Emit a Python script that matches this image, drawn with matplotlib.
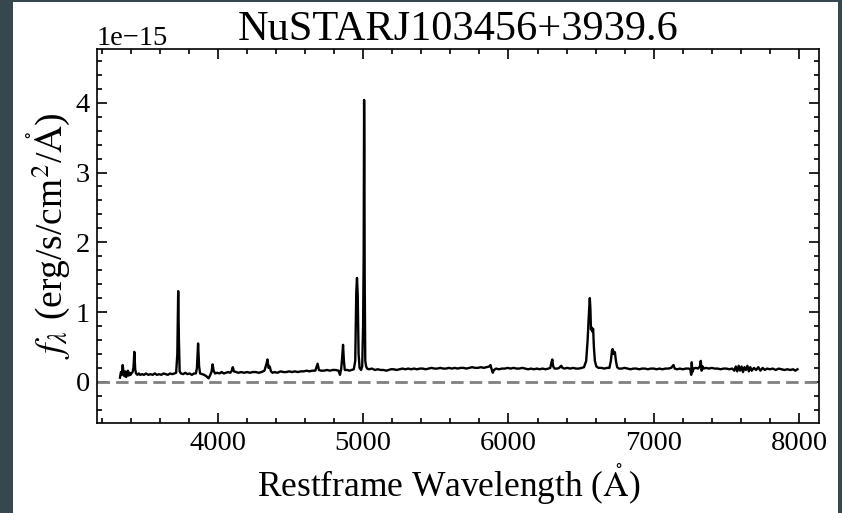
import numpy as np
import matplotlib
matplotlib.use("Agg")
import matplotlib.pyplot as plt
from matplotlib.patches import Rectangle
from matplotlib.ticker import MultipleLocator

plt.rcParams['font.family'] = ['Liberation Serif', 'DejaVu Serif']
plt.rcParams['mathtext.fontset'] = 'stix'

# spectrum (flux in units of 1e-15 erg/s/cm^2/A)
wave = [3325, 3332, 3338, 3344, 3350, 3356, 3362, 3368, 3374, 3380, 3386, 3392, 3398, 3404,
        3412, 3418, 3424, 3430, 3436, 3445, 3455, 3465, 3478, 3490, 3505, 3520, 3535, 3550,
        3565, 3580, 3595, 3610, 3625, 3640, 3655, 3670, 3685, 3700, 3712, 3720, 3726, 3731,
        3736, 3745, 3760, 3775, 3790, 3805, 3820, 3835, 3848, 3855, 3863, 3870, 3877, 3890,
        3905, 3920, 3935, 3945, 3955, 3963, 3970, 3980, 3995, 4010, 4025, 4040, 4055, 4070,
        4085, 4095, 4102, 4110, 4125, 4140, 4160, 4180, 4200, 4220, 4240, 4260, 4280, 4300,
        4320, 4334, 4341, 4348, 4356, 4365, 4375, 4390, 4410, 4430, 4450, 4470, 4490, 4510,
        4530, 4550, 4570, 4590, 4610, 4630, 4650, 4670, 4686, 4695, 4710, 4730, 4750, 4770,
        4790, 4810, 4830, 4840, 4848, 4855, 4861, 4867, 4873, 4890, 4905, 4920, 4935, 4945,
        4952, 4957, 4962, 4968, 4975, 4985, 4993, 4999, 5003, 5006, 5008, 5010, 5014, 5020,
        5027, 5040, 5060, 5080, 5100, 5120, 5140, 5160, 5175, 5190, 5210, 5230, 5250, 5270,
        5290, 5310, 5330, 5350, 5370, 5390, 5410, 5430, 5450, 5470, 5490, 5510, 5530, 5550,
        5570, 5590, 5610, 5630, 5650, 5670, 5690, 5710, 5730, 5750, 5770, 5790, 5810, 5830,
        5850, 5868, 5876, 5884, 5892, 5900, 5915, 5935, 5955, 5975, 5995, 6015, 6035, 6055,
        6075, 6095, 6115, 6135, 6155, 6175, 6195, 6215, 6235, 6255, 6275, 6288, 6296, 6302,
        6308, 6318, 6335, 6350, 6358, 6364, 6372, 6385, 6405, 6425, 6445, 6465, 6485, 6505,
        6520, 6535, 6545, 6553, 6560, 6564, 6568, 6572, 6578, 6583, 6588, 6595, 6605, 6620,
        6640, 6660, 6680, 6695, 6705, 6712, 6717, 6723, 6729, 6733, 6740, 6748, 6760, 6780,
        6800, 6820, 6840, 6860, 6880, 6900, 6920, 6940, 6960, 6980, 7000, 7020, 7040, 7060,
        7080, 7100, 7120, 7136, 7145, 7160, 7180, 7200, 7220, 7240, 7252, 7258, 7262, 7266,
        7275, 7290, 7305, 7318, 7324, 7330, 7336, 7345, 7360, 7380, 7400, 7420, 7440, 7460,
        7480, 7500, 7520, 7540, 7555, 7565, 7575, 7585, 7595, 7605, 7615, 7625, 7635, 7645,
        7655, 7665, 7675, 7690, 7705, 7720, 7735, 7750, 7765, 7780, 7800, 7820, 7840, 7860,
        7880, 7900, 7920, 7940, 7960, 7975, 7990]
flux = [0.06, 0.14, 0.10, 0.24, 0.12, 0.08, 0.15, 0.07, 0.12, 0.16, 0.09, 0.13, 0.10, 0.12,
        0.14, 0.20, 0.43, 0.18, 0.12, 0.10, 0.12, 0.10, 0.11, 0.10, 0.12, 0.10, 0.11, 0.10,
        0.12, 0.10, 0.11, 0.10, 0.12, 0.11, 0.10, 0.12, 0.11, 0.12, 0.13, 0.40, 1.30, 0.60,
        0.15, 0.12, 0.11, 0.13, 0.11, 0.12, 0.10, 0.12, 0.12, 0.20, 0.55, 0.22, 0.12, 0.11,
        0.10, 0.08, 0.05, 0.09, 0.14, 0.25, 0.16, 0.12, 0.13, 0.12, 0.14, 0.12, 0.13, 0.14,
        0.13, 0.16, 0.21, 0.15, 0.14, 0.13, 0.14, 0.13, 0.14, 0.13, 0.14, 0.14, 0.13, 0.14,
        0.16, 0.26, 0.32, 0.20, 0.22, 0.15, 0.13, 0.14, 0.13, 0.15, 0.14, 0.14, 0.15, 0.14,
        0.15, 0.14, 0.15, 0.15, 0.16, 0.15, 0.16, 0.16, 0.26, 0.17, 0.16, 0.16, 0.17, 0.16,
        0.17, 0.17, 0.16, 0.10, 0.18, 0.35, 0.53, 0.30, 0.17, 0.17, 0.16, 0.17, 0.18, 0.30,
        1.28, 1.49, 1.25, 0.40, 0.20, 0.17, 0.22, 0.80, 1.80, 4.04, 3.28, 1.50, 0.30, 0.22,
        0.19, 0.18, 0.19, 0.17, 0.18, 0.17, 0.17, 0.16, 0.17, 0.18, 0.18, 0.17, 0.18, 0.19,
        0.18, 0.19, 0.18, 0.19, 0.18, 0.19, 0.19, 0.18, 0.19, 0.20, 0.19, 0.19, 0.20, 0.19,
        0.19, 0.20, 0.19, 0.20, 0.19, 0.20, 0.20, 0.19, 0.20, 0.21, 0.20, 0.20, 0.21, 0.20,
        0.21, 0.22, 0.24, 0.18, 0.13, 0.17, 0.19, 0.18, 0.19, 0.19, 0.20, 0.19, 0.20, 0.19,
        0.19, 0.20, 0.19, 0.18, 0.19, 0.18, 0.19, 0.18, 0.19, 0.18, 0.19, 0.20, 0.28, 0.32,
        0.22, 0.19, 0.19, 0.20, 0.22, 0.23, 0.20, 0.19, 0.20, 0.19, 0.20, 0.19, 0.19, 0.20,
        0.21, 0.30, 0.60, 0.95, 1.20, 1.05, 0.75, 0.78, 0.72, 0.76, 0.50, 0.30, 0.22, 0.20,
        0.20, 0.19, 0.20, 0.20, 0.30, 0.44, 0.47, 0.40, 0.43, 0.42, 0.30, 0.21, 0.19, 0.19,
        0.20, 0.19, 0.18, 0.19, 0.19, 0.18, 0.19, 0.19, 0.18, 0.19, 0.19, 0.18, 0.19, 0.18,
        0.19, 0.19, 0.20, 0.24, 0.19, 0.18, 0.19, 0.18, 0.19, 0.19, 0.18, 0.10, 0.28, 0.14,
        0.19, 0.20, 0.19, 0.22, 0.30, 0.16, 0.22, 0.19, 0.20, 0.19, 0.20, 0.19, 0.19, 0.18,
        0.19, 0.19, 0.18, 0.19, 0.16, 0.22, 0.15, 0.23, 0.16, 0.22, 0.14, 0.21, 0.17, 0.23,
        0.15, 0.21, 0.16, 0.20, 0.17, 0.21, 0.16, 0.20, 0.17, 0.19, 0.18, 0.19, 0.17, 0.19,
        0.18, 0.17, 0.18, 0.17, 0.18, 0.16, 0.18]

wave = np.array(wave)
flux = np.array(flux) * 1e-15

fig = plt.figure(figsize=(8.42, 5.13), dpi=100, facecolor='#36474f')
fig.patches.append(Rectangle((13/842, 0), 825/842, 511/513, transform=fig.transFigure,
                             facecolor='white', edgecolor='none', zorder=-1))
ax = fig.add_axes([97/842, 1-423/513, 722/842, 374/513])

ax.plot(wave, flux, color='black', lw=1.7)
ax.axhline(0, color='gray', lw=2, ls=(0, (4.5, 2.2)))

ax.set_xlim(3167, 8138)
ax.set_ylim(-0.59e-15, 4.77e-15)
ax.xaxis.set_major_locator(MultipleLocator(1000))
ax.xaxis.set_minor_locator(MultipleLocator(200))
ax.yaxis.set_major_locator(MultipleLocator(1e-15))
ax.yaxis.set_minor_locator(MultipleLocator(0.2e-15))
ax.tick_params(which='both', direction='in', top=True, right=True, width=1.2, labelsize=20.5)
ax.tick_params(which='major', length=7)
ax.tick_params(which='minor', length=3.5)
ax.tick_params(axis='x', pad=6)
ax.tick_params(axis='y', pad=5)
ax.yaxis.get_offset_text().set_fontsize(20.5)
for s in ax.spines.values():
    s.set_linewidth(1.2)

ax.set_title('NuSTARJ103456+3939.6', fontsize=30.5, pad=6)
ax.set_xlabel(r'Restframe Wavelength ($\mathrm{\mathring{A}}$)', fontsize=25.5, labelpad=4)
ax.xaxis.label.set_x(0.487)
ax.set_ylabel(r'$f_\lambda$ (erg/s/cm$^2$/$\mathrm{\mathring{A}}$)', fontsize=27, labelpad=3)

fig.savefig('out.png', dpi=100, facecolor=fig.get_facecolor())
